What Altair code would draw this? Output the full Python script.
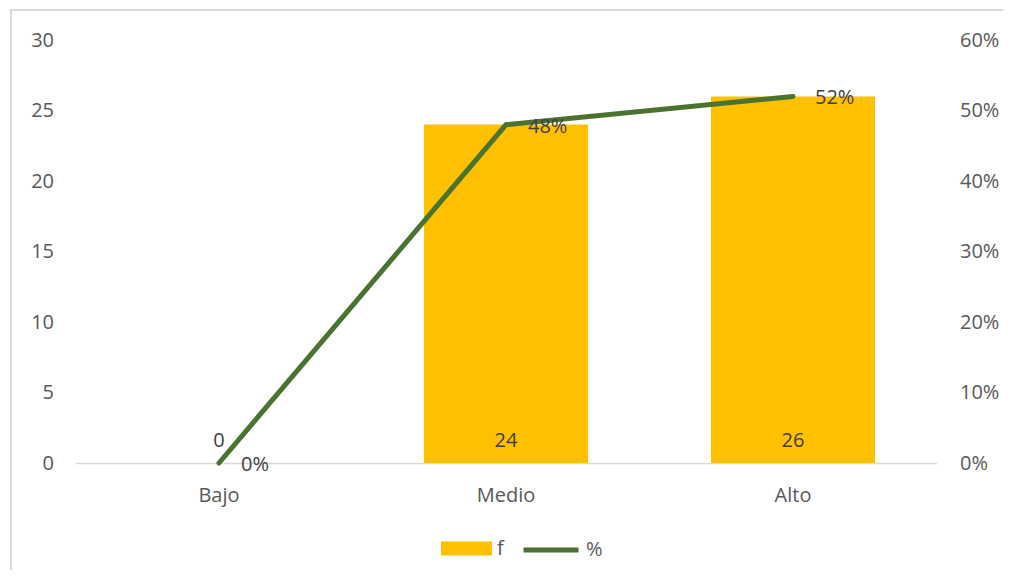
import altair as alt
import pandas as pd

categories = ["Bajo", "Medio", "Alto"]
f_values = [0, 24, 26]
pct_values = [0.0, 0.48, 0.52]
pct_labels = ["0%", "48%", "52%"]
left_ticks = [0, 5, 10, 15, 20, 25, 30]
right_ticks = [0, 0.1, 0.2, 0.3, 0.4, 0.5, 0.6]

df = pd.DataFrame({"cat": categories, "f": f_values, "pct": pct_values,
                   "pct_label": pct_labels})
df["s_f"] = "f"
df["s_p"] = "%"
df["zero"] = 0

FONT = "Open Sans"
TXT = "#595959"
DTXT = "#404040"
FS = 20
BAR = "#FFC000"
LINE = "#4A7230"

x_enc = alt.X("cat:N", sort=categories, title=None,
              scale=alt.Scale(paddingInner=0.43, paddingOuter=0.215),
              axis=alt.Axis(labelAngle=0, labelPadding=22, ticks=False,
                            domainColor="#d9d9d9", domainWidth=1.3))

left_axis = alt.Axis(values=left_ticks, grid=False, domain=False, ticks=False,
                     labelPadding=22, title=None)
right_axis = alt.Axis(values=right_ticks, format=".0%", grid=False, domain=False,
                      ticks=False, labelPadding=23, title=None, orient="right")
left_scale = alt.Scale(domain=[0, 30], nice=False)
right_scale = alt.Scale(domain=[0, 0.6], nice=False)

base = alt.Chart(df)

border = base.mark_rect(fill=None, stroke="#d9d9d9", strokeWidth=1.5).encode(
    x=alt.value(-64.5), x2=alt.value(934), y=alt.value(-30), y2=alt.value(560))

bars = base.mark_bar(size=164).encode(
    x=x_enc,
    y=alt.Y("f:Q", scale=left_scale, axis=left_axis),
    fill=alt.Fill("s_f:N", scale=alt.Scale(domain=["f"], range=[BAR]),
                  legend=alt.Legend(title=None, orient="none", legendX=365.5, legendY=483,
                                    symbolType="M-1,-0.275L1,-0.275L1,0.275L-1,0.275Z",
                                    symbolSize=2601, symbolStrokeWidth=0, padding=0,
                                    labelOffset=5)),
)

bar_text = base.mark_text(baseline="alphabetic", dy=-16.5, font=FONT, fontSize=FS, color=DTXT).encode(
    x=alt.X("cat:N", sort=categories),
    y=alt.Y("zero:Q", scale=left_scale, axis=left_axis),
    text="f:Q",
)

line = base.mark_line(strokeWidth=5, strokeCap="round", strokeJoin="round").encode(
    x=alt.X("cat:N", sort=categories),
    y=alt.Y("pct:Q", scale=right_scale, axis=right_axis),
    stroke=alt.Stroke("s_p:N", scale=alt.Scale(domain=["%"], range=[LINE]),
                      legend=alt.Legend(title=None, orient="none", legendX=445.5, legendY=480,
                                        symbolType="stroke", symbolSize=3025,
                                        symbolStrokeWidth=5, padding=0, labelOffset=5)),
)

line_text = base.mark_text(align="left", baseline="middle", dx=22, dy=2,
                           font=FONT, fontSize=FS, color=DTXT).encode(
    x=alt.X("cat:N", sort=categories),
    y=alt.Y("pct:Q", scale=right_scale, axis=right_axis),
    text="pct_label:N",
)

left = alt.layer(border, bars, bar_text)
right = alt.layer(line, line_text)

chart = alt.layer(left, right).resolve_scale(y="independent").properties(
    width=861, height=423,
    background="white",
    autosize=alt.AutoSizeParams(type="none"),
    padding={"left": 67.5, "top": 32, "right": 66.5, "bottom": 107},
).configure_view(stroke=None).configure_axis(
    labelFont=FONT, labelFontSize=FS, labelColor=TXT,
).configure_legend(
    labelFont=FONT, labelFontSize=FS, labelColor=TXT,
)

chart.save("out.html", embed_options={"renderer": "svg", "actions": False})
